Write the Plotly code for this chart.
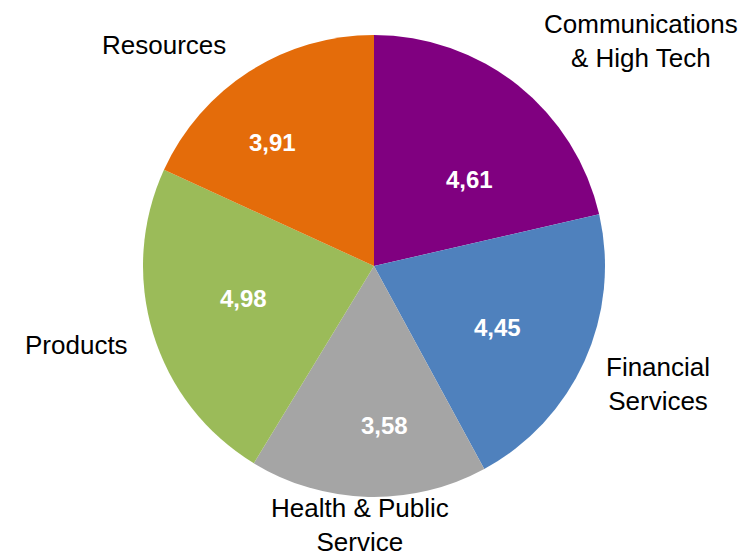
import plotly.graph_objects as go

categories = ["Communications<br>& High Tech", "Financial<br>Services", "Health & Public<br>Service", "Products", "Resources"]
values = [4.61, 4.45, 3.58, 4.98, 3.91]
value_labels = ["4,61", "4,45", "3,58", "4,98", "3,91"]
colors = ["#800080", "#4F81BD", "#A5A5A5", "#9BBB59", "#E46C0A"]

W, H = 751, 558
# outer category label positions and inner value label positions (pixels)
label_pos = [(641, 41), (658, 384), (360, None), (76, 345), (164, 45)]
value_pos = [(470, 180), (497, 327), (384, 425), (243, 298), (272, 142)]

cx, cy, r = 374, 266, 231
FONT = "Liberation Sans, Arial, sans-serif"

fig = go.Figure(go.Pie(
    values=values,
    labels=categories,
    text=value_labels,
    textinfo="none",
    sort=False,
    direction="clockwise",
    rotation=0,
    marker=dict(colors=colors, line=dict(color="white", width=0)),
    domain=dict(x=[(cx - r) / W, (cx + r) / W], y=[(H - cy - r) / H, (H - cy + r) / H]),
    showlegend=False,
    hoverinfo="label+value",
))

for lab, (x, y) in zip(categories, label_pos):
    if y is None:
        fig.add_annotation(
            x=x / W, y=0, xref="paper", yref="paper",
            text=lab, showarrow=False, xanchor="center", yanchor="bottom",
            borderpad=0,
            font=dict(family=FONT, size=26, color="black"),
        )
    else:
        fig.add_annotation(
            x=x / W, y=1 - y / H, xref="paper", yref="paper",
            text=lab, showarrow=False, xanchor="center", yanchor="middle",
            font=dict(family=FONT, size=26, color="black"),
        )

for lab, (x, y) in zip(value_labels, value_pos):
    fig.add_annotation(
        x=x / W, y=1 - y / H, xref="paper", yref="paper",
        text="<b>" + lab + "</b>", showarrow=False, xanchor="center", yanchor="middle",
        font=dict(family=FONT, size=24, color="white"),
    )

fig.update_layout(
    width=W, height=H,
    margin=dict(l=0, r=0, t=0, b=0),
    paper_bgcolor="white", plot_bgcolor="white",
)

fig.write_html("out.html")
